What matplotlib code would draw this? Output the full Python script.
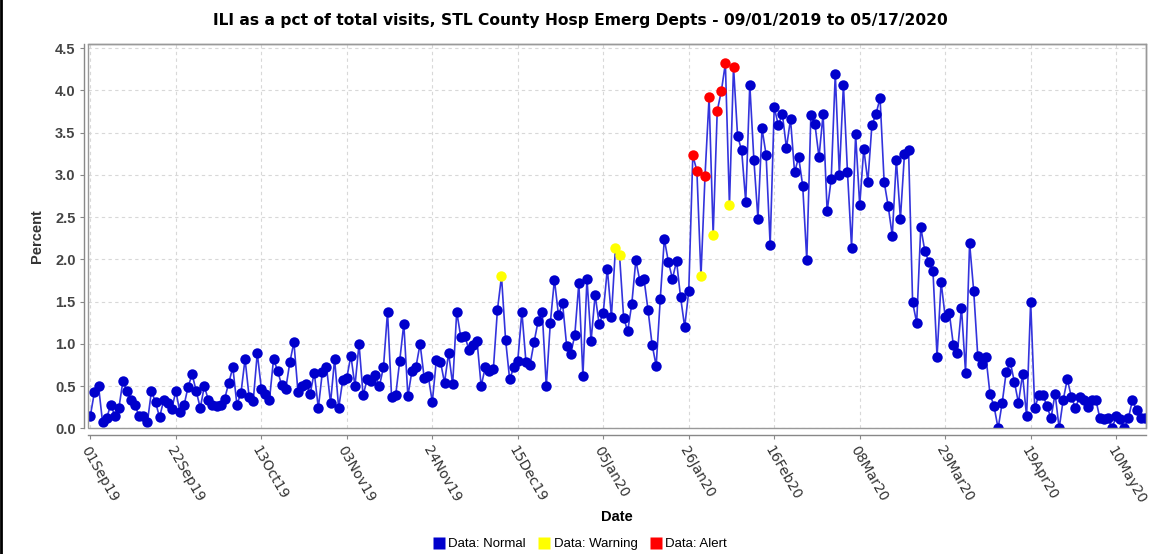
import numpy as np
import pandas as pd
import matplotlib
matplotlib.use('Agg')
import matplotlib.pyplot as plt
import matplotlib.dates as mdates
from matplotlib.patches import Rectangle

plt.rcParams['font.family'] = ['Liberation Sans', 'DejaVu Sans']

# daily ILI percent, 09/01/2019 .. 05/17/2020
pct = [0.15, 0.43, 0.50, 0.07, 0.12, 0.28, 0.15, 0.24, 0.56, 0.44,
       0.33, 0.27, 0.14, 0.14, 0.07, 0.44, 0.31, 0.13, 0.33, 0.30,
       0.23, 0.44, 0.19, 0.27, 0.49, 0.64, 0.44, 0.24, 0.50, 0.33,
       0.28, 0.26, 0.27, 0.35, 0.54, 0.72, 0.28, 0.42, 0.82, 0.37,
       0.32, 0.89, 0.47, 0.41, 0.34, 0.82, 0.68, 0.51, 0.47, 0.78,
       1.02, 0.43, 0.50, 0.53, 0.41, 0.66, 0.24, 0.67, 0.73, 0.30,
       0.82, 0.24, 0.57, 0.60, 0.86, 0.50, 1.00, 0.39, 0.58, 0.56,
       0.63, 0.50, 0.72, 1.38, 0.37, 0.39, 0.80, 1.24, 0.38, 0.68,
       0.73, 1.00, 0.60, 0.62, 0.31, 0.81, 0.79, 0.54, 0.89, 0.52,
       1.38, 1.08, 1.09, 0.93, 0.99, 1.03, 0.50, 0.72, 0.68, 0.70,
       1.40, 1.80, 1.05, 0.58, 0.72, 0.80, 1.38, 0.79, 0.75, 1.02,
       1.27, 1.38, 0.50, 1.25, 1.76, 1.34, 1.48, 0.98, 0.88, 1.10,
       1.72, 0.62, 1.77, 1.03, 1.58, 1.23, 1.37, 1.89, 1.32, 2.14,
       2.05, 1.31, 1.15, 1.47, 1.99, 1.74, 1.77, 1.40, 0.99, 0.74,
       1.53, 2.24, 1.97, 1.77, 1.98, 1.55, 1.20, 1.62, 3.23, 3.05,
       1.80, 2.99, 3.92, 2.29, 3.76, 3.99, 4.32, 2.64, 4.28, 3.46,
       3.29, 2.68, 4.07, 3.18, 2.48, 3.55, 3.24, 2.17, 3.80, 3.59,
       3.72, 3.32, 3.66, 3.03, 3.21, 2.87, 1.99, 3.71, 3.60, 3.21,
       3.72, 2.57, 2.95, 4.20, 3.00, 4.07, 3.03, 2.14, 3.48, 2.64,
       3.31, 2.92, 3.59, 3.72, 3.91, 2.92, 2.63, 2.28, 3.18, 2.48,
       3.25, 3.30, 1.49, 1.25, 2.38, 2.10, 1.97, 1.86, 0.85, 1.73,
       1.32, 1.37, 0.99, 0.89, 1.43, 0.66, 2.19, 1.63, 0.86, 0.76,
       0.85, 0.41, 0.26, 0.00, 0.30, 0.67, 0.78, 0.55, 0.30, 0.64,
       0.14, 1.50, 0.24, 0.39, 0.40, 0.26, 0.12, 0.41, 0.00, 0.34,
       0.58, 0.37, 0.24, 0.37, 0.34, 0.25, 0.34, 0.34, 0.12, 0.11,
       0.12, 0.00, 0.14, 0.11, 0.00, 0.12, 0.33, 0.22, 0.12, 0.12]

warning_dates = ['2019-12-11', '2020-01-08', '2020-01-09', '2020-01-29',
                 '2020-02-01', '2020-02-05']
alert_dates = ['2020-01-27', '2020-01-28', '2020-01-30', '2020-01-31',
               '2020-02-02', '2020-02-03', '2020-02-04', '2020-02-06']

dates = pd.date_range('2019-09-01', periods=len(pct), freq='D')
df = pd.DataFrame({'date': dates, 'pct': pct})
df['status'] = 'Normal'
df.loc[df.date.isin(pd.to_datetime(warning_dates)), 'status'] = 'Warning'
df.loc[df.date.isin(pd.to_datetime(alert_dates)), 'status'] = 'Alert'

colors = {'Normal': '#0000CC', 'Warning': '#FFFF00', 'Alert': '#FF0000'}

fig = plt.figure(figsize=(11.49, 5.54), dpi=100)
ax = fig.add_axes([88/1149, 1 - 428.3/554, (1146-88)/1149, (428.3-44)/554])

ax.plot(df.date, df.pct, color='#3333DD', lw=1.2, zorder=3)
for st in ['Normal', 'Warning', 'Alert']:
    d = df[df.status == st]
    ax.plot(d.date, d.pct, ls='none', marker='o', ms=7.5, mec='none',
            color=colors[st], zorder=4, clip_on=True)

ax.set_xlim(dates[0] - pd.Timedelta(hours=14), dates[-1] + pd.Timedelta(hours=8))
ax.set_ylim(0, 4.55)
ax.set_yticks(np.arange(0, 4.51, 0.5))
ax.yaxis.set_major_formatter(matplotlib.ticker.FormatStrFormatter('%.1f'))
ax.set_xticks(pd.date_range('2019-09-01', '2020-05-17', freq='21D'))
ax.xaxis.set_major_formatter(mdates.DateFormatter('%d%b%y'))

ax.grid(True, color='#d8d8d8', ls=(0, (3, 3)), lw=0.8)
ax.set_axisbelow(True)
for s in ax.spines.values():
    s.set_color('#888888')
    s.set_linewidth(1)
ax.spines['left'].set_position(('outward', 3))
ax.spines['bottom'].set_position(('outward', 5))
ax.add_patch(Rectangle((0, 0), 1, 1, transform=ax.transAxes, fill=False,
                       ec='#999999', lw=1, zorder=5, clip_on=False))

ax.tick_params(axis='y', length=3, color='#888888', labelsize=10.5,
               labelcolor='#444444', pad=3)
ax.tick_params(axis='x', length=3, color='#888888', labelsize=10,
               labelcolor='#333333', pad=3)
for lb in ax.get_yticklabels():
    lb.set_fontweight('bold')
for lb in ax.get_xticklabels():
    lb.set_family(['DejaVu Sans'])
    lb.set_rotation(-60)
    lb.set_ha('left')
    lb.set_va('top')
    lb.set_rotation_mode('anchor')

ax.set_ylabel('Percent', fontsize=10.5, fontweight='bold', color='#333333', labelpad=8)
fig.text(617/1149, 1 - 517/554, 'Date', ha='center', va='center',
         fontsize=10.5, fontweight='bold', color='black')
fig.text(580/1149, 1 - 20/554,
         'ILI as a pct of total visits, STL County Hosp Emerg Depts - 09/01/2019 to 05/17/2020',
         ha='center', va='center', fontsize=11.2, fontweight='bold', family=['DejaVu Sans'])

handles = [plt.Line2D([], [], ls='none', marker='s', ms=8, mec='none', color=colors[s])
           for s in ['Normal', 'Warning', 'Alert']]
fig.legend(handles, ['Data: Normal', 'Data: Warning', 'Data: Alert'],
           loc='center', bbox_to_anchor=(0.505, 0.018), ncol=3, frameon=False,
           fontsize=9.5, handlelength=0.8, handletextpad=0.3, columnspacing=1.0,
           borderpad=0)

fig.add_artist(plt.Line2D([0.001, 0.001], [0, 1], transform=fig.transFigure,
                          color='black', lw=2))

fig.savefig('out.png', dpi=100)
